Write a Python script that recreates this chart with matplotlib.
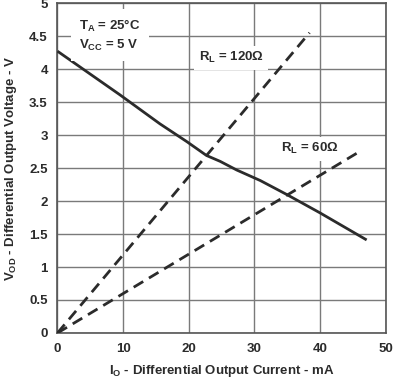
"""VOD vs IO, differential output voltage with load lines for RL = 120 and 60 ohm."""
import matplotlib; matplotlib.use("Agg"); import matplotlib.pyplot as plt

plt.rcParams["font.family"] = ["Liberation Sans", "DejaVu Sans"]
plt.rcParams["font.weight"] = "bold"
plt.rcParams["mathtext.fontset"] = "custom"
for k in ("rm", "it", "bf"):
    plt.rcParams["mathtext." + k] = "Liberation Sans:bold"

# driver output curve
io_ma = [0, 9.5, 15.6, 19.7, 22.7, 24.8, 27.3, 30.9, 34.9, 40.0, 47.1]
vod_v = [4.27, 3.61, 3.17, 2.90, 2.69, 2.60, 2.47, 2.31, 2.10, 1.82, 1.41]
# load lines, end points
rl120_i = [0, 38.4]
rl120_v = [0, 4.55]
rl60_i = [0, 46.2]
rl60_v = [0, 2.76]
x_ticks = [0, 10, 20, 30, 40, 50]
y_ticks = [0, 0.5, 1, 1.5, 2, 2.5, 3, 3.5, 4, 4.5, 5]

INK = "#2b2b2b"
GRID = "#7a7a7a"
FS = 9.5

fig = plt.figure(figsize=(3.97, 3.80), dpi=100)
ax = fig.add_axes([0.1448, 0.1237, 0.8267, 0.8683])
ax.set_xlim(0, 50); ax.set_ylim(0, 5)
ax.set_xticks(x_ticks); ax.set_yticks(y_ticks)
ax.set_xticklabels([str(t) for t in x_ticks], fontweight="bold")
ax.set_yticklabels([f"{t:g}" for t in y_ticks], fontweight="bold")
ax.grid(True, color=GRID, linewidth=1.0)
ax.set_axisbelow(True)
ax.tick_params(length=0, pad=7, labelsize=FS, colors=INK)
for s in ax.spines.values():
    s.set_color("#555555"); s.set_linewidth(1.2)

ax.plot(io_ma, vod_v, color=INK, lw=2.0, solid_capstyle="butt", zorder=3)
ax.plot(rl120_i, rl120_v, color=INK, lw=2.0, dashes=(4, 2.4), zorder=3)
ax.plot(rl60_i, rl60_v, color=INK, lw=2.0, dashes=(4, 2.4), zorder=3)

box = dict(facecolor="white", edgecolor="none", pad=3)
ax.text(3.3, 4.51, "$T_A$ = 25°C\n$V_{CC}$ = 5 V", fontsize=FS, fontweight="bold", color=INK,
        va="center", ha="left", linespacing=1.4,
        bbox=dict(facecolor="white", edgecolor="none", pad=6), zorder=4)
ax.text(21.5, 4.17, "$R_L$ = 120Ω", fontsize=FS, fontweight="bold", color=INK,
        va="center", ha="left", bbox=box, zorder=4)
ax.text(34.0, 2.79, "$R_L$ = 60Ω", fontsize=FS, fontweight="bold", color=INK,
        va="center", ha="left", bbox=box, zorder=4)

ax.set_xlabel("$I_O$ - Differential Output Current - mA", fontsize=FS, fontweight="bold",
              color=INK, labelpad=6)
ax.set_ylabel("$V_{OD}$ - Differential Output Voltage - V", fontsize=FS, fontweight="bold",
              color=INK, labelpad=7)

fig.savefig("out.png", dpi=100)
